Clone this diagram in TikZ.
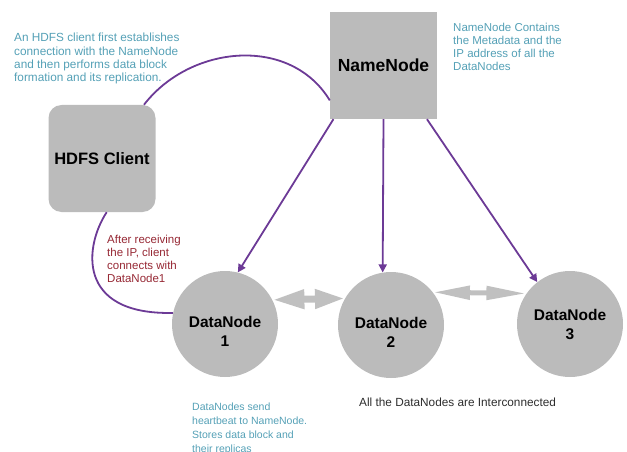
\documentclass[tikz,border=0pt]{standalone}
\usepackage{fontspec}
\setmainfont{Liberation Sans}
\usetikzlibrary{arrows.meta}

\definecolor{boxgray}{RGB}{187,187,187}
\definecolor{linkgray}{RGB}{192,192,192}
\definecolor{callpurple}{RGB}{108,58,150}
\definecolor{notecyan}{RGB}{84,160,182}
\definecolor{notered}{RGB}{150,40,52}
\definecolor{notedark}{RGB}{45,45,45}

\begin{document}
\begin{tikzpicture}[x=1pt, y=-1pt, >={Triangle[length=8pt,width=8pt]},
    hdfsbox/.style={fill=boxgray, minimum size=107pt, inner sep=0pt},
    datanode/.style={circle, fill=boxgray, minimum size=106pt, inner sep=0pt},
    dnlabel/.style={align=center, inner sep=0pt, font=\bfseries\fontsize{15.5}{19}\selectfont},
    note/.style={anchor=north west, align=left, inner sep=0pt, font=\fontsize{11.5}{13}\selectfont},
    flow/.style={callpurple, line width=1.8pt},
    swap/.style={linkgray, line width=#1}]
        \useasboundingbox (0,0) rectangle (627,452);
        % boxes
        \node[hdfsbox, font=\bfseries\fontsize{17.5}{20}\selectfont] (nn) at (383.5,65.5) {NameNode};
        \node[hdfsbox, rounded corners=13pt, font=\bfseries\fontsize{16.5}{20}\selectfont] (hc) at (102,158.5) {HDFS Client};
        \node[datanode, label={[dnlabel, yshift=-7pt]center:DataNode\\1}] (dn1) at (225,324) {};
        \node[datanode, label={[dnlabel, yshift=-7pt]center:DataNode\\2}] (dn2) at (391,325) {};
        \node[datanode, label={[dnlabel, yshift=0pt]center:DataNode\\3}] (dn3) at (570,324) {};
        % client calls
        \draw[flow] (hc.52) .. controls (190,45) and (290,35) .. (nn.213);
        \draw[flow] (hc.-85) .. controls (85,245) and (75,315) .. (dn1.168);
        \draw[flow, ->] (nn.-133) -- (dn1.76);
        \draw[flow, ->] (nn.south) -- (dn2.99);
        \draw[flow, ->] (nn.-51) -- (dn3.128);
        % datanodes talk to each other
        \draw[swap=7pt, {Triangle[length=32pt,width=18pt]}-{Triangle[length=30pt,width=18pt]}] (dn1.27) -- (dn2.150);
        \draw[swap=5pt, {Triangle[length=37pt,width=13pt]}-{Triangle[length=40pt,width=13pt]}] (dn2.38) -- (dn3.145);
        % notes
        \node[note, notecyan, font=\fontsize{11.8}{13.3}\selectfont] (clientnote) at (14,33) {An HDFS client first establishes\\connection with the NameNode\\and then performs data block\\formation and its replication.};
        \node[note, notecyan] (nnnote) at (453,23) {NameNode Contains\\the Metadata and the\\IP address of all the\\DataNodes};
        \node[note, notered] (ipnote) at (107,235) {After receiving\\the IP, client\\connects with\\DataNode1};
        \node[note, notecyan, font=\fontsize{10.5}{14}\selectfont] (dnnote) at (192,403) {DataNodes send\\heartbeat to NameNode.\\Stores data block and\\their replicas};
        \node[note, notedark, font=\fontsize{11.8}{13}\selectfont] (linknote) at (359,398) {All the DataNodes are Interconnected};
    \end{tikzpicture}
\end{document}
